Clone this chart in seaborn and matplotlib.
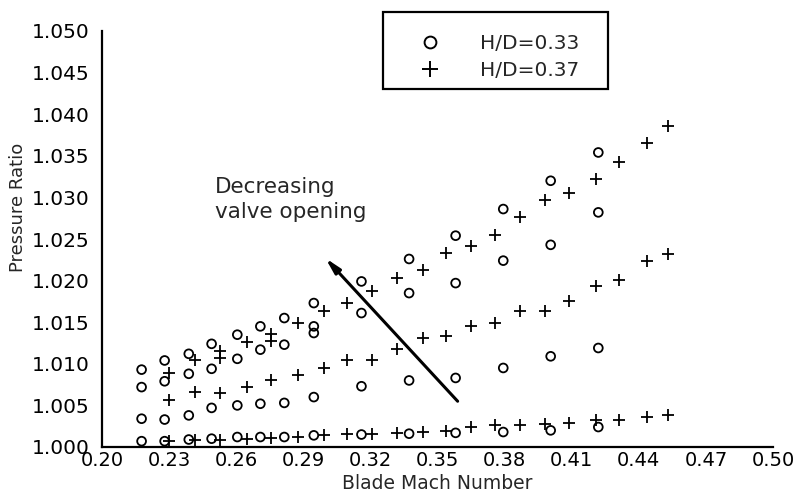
import matplotlib
matplotlib.use("Agg")
import matplotlib.pyplot as plt
import numpy as np
import pandas as pd
import seaborn as sns
from matplotlib.patches import Rectangle
from matplotlib.lines import Line2D
from matplotlib.ticker import MultipleLocator, FormatStrFormatter

# ---------------- data ----------------
# H/D = 0.33  (open circles), four valve settings per Mach number
circ_mach = [0.2177, 0.2280, 0.2388, 0.2490, 0.2605, 0.2708, 0.2815,
             0.2947, 0.3160, 0.3373, 0.3581, 0.3794, 0.4006, 0.4219]
circ_valve1 = [1.0093, 1.0104, 1.0112, 1.0124, 1.0135, 1.0145, 1.0155,
               1.0173, 1.0199, 1.0226, 1.0254, 1.0286, 1.0320, 1.0354]
circ_valve2 = [1.0072, 1.0079, 1.0088, 1.0094, 1.0106, 1.0117, 1.0123,
               1.0137, 1.0161, 1.0185, 1.0197, 1.0224, 1.0243, 1.0282]
circ_valve3 = [1.0034, 1.0033, 1.0038, 1.0047, 1.0050, 1.0052, 1.0053,
               1.0060, 1.0073, 1.0080, 1.0083, 1.0095, 1.0109, 1.0119]
circ_valve4 = [1.0007, 1.0007, 1.0009, 1.0010, 1.0012, 1.0012, 1.0012,
               1.0014, 1.0015, 1.0016, 1.0017, 1.0018, 1.0020, 1.0024]
circ_extra_mach = [0.2947]
circ_extra_ratio = [1.0145]

# H/D = 0.37  (plus signs), three valve settings per Mach number
cross_mach = [0.2299, 0.2418, 0.2526, 0.2647, 0.2754, 0.2875, 0.2991,
              0.3097, 0.3209, 0.3321, 0.3433, 0.3540, 0.3648, 0.3758,
              0.3870, 0.3979, 0.4089, 0.4210, 0.4311, 0.4436, 0.4530]
cross_valve1 = [1.0089, 1.0105, 1.0115, 1.0126, 1.0136, 1.0149, 1.0163,
                1.0173, 1.0188, 1.0203, 1.0213, 1.0233, 1.0241, 1.0255,
                1.0276, 1.0297, 1.0305, 1.0322, 1.0342, 1.0365, 1.0386]
cross_valve2 = [1.0056, 1.0066, 1.0065, 1.0072, 1.0081, 1.0087, 1.0095,
                1.0105, 1.0105, 1.0118, 1.0131, 1.0133, 1.0146, 1.0149,
                1.0163, 1.0163, 1.0175, 1.0194, 1.0201, 1.0224, 1.0232]
cross_valve3 = [1.0007, 1.0008, 1.0009, 1.0010, 1.0011, 1.0012, 1.0014,
                1.0016, 1.0016, 1.0017, 1.0018, 1.0019, 1.0024, 1.0026,
                1.0026, 1.0028, 1.0029, 1.0033, 1.0033, 1.0036, 1.0038]
cross_extra_mach = [0.2526, 0.2754]
cross_extra_ratio = [1.0107, 1.0127]

series_labels = ["H/D=0.33", "H/D=0.37"]
x_ticks = [0.20, 0.23, 0.26, 0.29, 0.32, 0.35, 0.38, 0.41, 0.44, 0.47, 0.50]
y_ticks = [1.000, 1.005, 1.010, 1.015, 1.020, 1.025, 1.030, 1.035, 1.040, 1.045, 1.050]
annotation_text = "Decreasing\nvalve opening"
arrow_tail = (0.3590, 1.0055)
arrow_head = (0.2999, 1.0227)

# ---------------- tidy table ----------------
def block(mach, ratio, label):
    return pd.DataFrame({"mach": mach, "ratio": ratio, "series": label})

df_c = pd.concat([block(circ_mach, v, series_labels[0]) for v in
                  (circ_valve1, circ_valve2, circ_valve3, circ_valve4)] +
                 [block(circ_extra_mach, circ_extra_ratio, series_labels[0])],
                 ignore_index=True)
df_p = pd.concat([block(cross_mach, v, series_labels[1]) for v in
                  (cross_valve1, cross_valve2, cross_valve3)] +
                 [block(cross_extra_mach, cross_extra_ratio, series_labels[1])],
                 ignore_index=True)

# ---------------- style ----------------
sns.set_style("white")
plt.rcParams["font.family"] = ["DejaVu Sans"]

fig = plt.figure(figsize=(8.04, 4.96), dpi=100)
ax = fig.add_axes([102 / 804, 49 / 496, (773 - 102) / 804, (447 - 31) / 496])

sns.scatterplot(data=df_c, x="mach", y="ratio", ax=ax, marker="o", s=40,
                color="black", legend=False, zorder=3)
coll = ax.collections[-1]
coll.set_facecolor("none")
coll.set_edgecolor("black")
coll.set_linewidth(1.3)

sns.scatterplot(data=df_p, x="mach", y="ratio", ax=ax, marker="+", s=80,
                color="black", edgecolor="black", legend=False, zorder=3)
coll = ax.collections[-1]
coll.set_edgecolor("black")
coll.set_linewidth(1.3)

ax.set_xlim(0.20, 0.50)
ax.set_ylim(1.000, 1.050)
ax.set_xticks(x_ticks)
ax.set_yticks(y_ticks)
ax.xaxis.set_minor_locator(MultipleLocator(0.015))
ax.yaxis.set_minor_locator(MultipleLocator(0.0025))
ax.xaxis.set_major_formatter(FormatStrFormatter("%.2f"))
ax.yaxis.set_major_formatter(FormatStrFormatter("%.3f"))

for s in ("top", "right"):
    ax.spines[s].set_visible(False)
for s in ("left", "bottom"):
    ax.spines[s].set_linewidth(1.6)
    ax.spines[s].set_color("black")

ax.tick_params(axis="both", which="major", direction="in", length=6,
               width=1.3, color="black", labelsize=14.5, labelcolor="black")
ax.tick_params(axis="both", which="minor", direction="in", length=5,
               width=1.3, color="black")
ax.tick_params(axis="y", which="major", pad=9)
ax.tick_params(axis="x", which="major", labelsize=14, pad=3)

ax.set_xlabel("Blade Mach Number", fontsize=13.5)
ax.xaxis.set_label_coords(0.5, -(474 - 447) / 416)
ax.set_ylabel("Pressure Ratio", fontsize=13)
ax.yaxis.set_label_coords(-0.112, 0.575)

ax.text(0.2506, 1.0324, annotation_text, fontsize=15.5, ha="left", va="top",
        linespacing=1.27)
ax.annotate("", xy=arrow_head, xytext=arrow_tail,
            arrowprops=dict(arrowstyle="-|>,head_length=0.9,head_width=0.22",
                            color="black", lw=2.2, shrinkA=0, shrinkB=0))

# legend
handles = [Line2D([], [], marker="o", ls="", mfc="none", mec="black", ms=8.5, mew=1.4),
           Line2D([], [], marker="+", ls="", color="black", ms=12, mew=1.4)]
ax.legend(handles, series_labels, loc="upper left",
          bbox_to_anchor=(420 / 804, 1 - 34 / 496), bbox_transform=fig.transFigure,
          frameon=False, fontsize=14.5, handlelength=1.0, handletextpad=2.0,
          labelspacing=0.4, borderpad=0, borderaxespad=0)
fig.patches.append(Rectangle((383 / 804, 1 - 89 / 496), (608 - 383) / 804, (89 - 12) / 496,
                             transform=fig.transFigure, fill=False,
                             edgecolor="black", lw=1.6))

fig.savefig("out.png", dpi=100)
